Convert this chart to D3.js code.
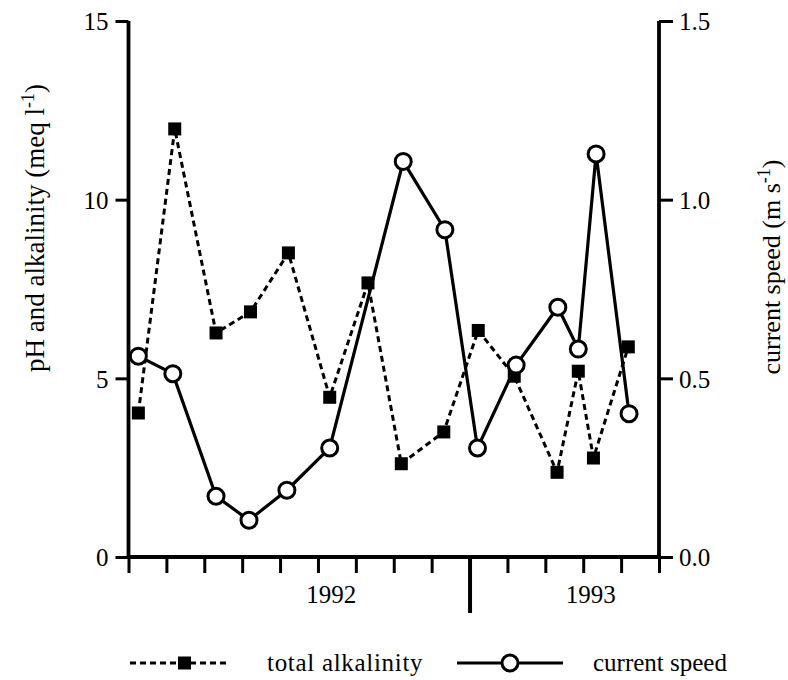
<!DOCTYPE html>
<html>
<head>
<meta charset="utf-8">
<script src="https://cdn.jsdelivr.net/npm/d3@7/dist/d3.min.js"></script>
<style>
  html, body { margin: 0; padding: 0; background: #fff; }
  svg text { font-family: "Liberation Serif", "Times New Roman", serif; fill: #000; }
</style>
</head>
<body>
<svg id="chart" width="788" height="680"></svg>
<script>
// ---- data ----
const alkX = [0.26, 1.22, 2.31, 3.22, 4.22, 5.31, 6.32, 7.20, 8.32, 9.23, 10.18, 11.31, 11.87, 12.27, 13.19];
const alkalinity = [4.03, 11.98, 6.27, 6.86, 8.51, 4.47, 7.67, 2.61, 3.50, 6.34, 5.06, 2.37, 5.20, 2.77, 5.88];
const speedX = [0.26, 1.17, 2.31, 3.18, 4.18, 5.31, 7.25, 8.35, 9.21, 10.23, 11.33, 11.87, 12.34, 13.21];
const currentSpeed = [0.562, 0.513, 0.170, 0.103, 0.187, 0.305, 1.107, 0.916, 0.305, 0.537, 0.699, 0.582, 1.128, 0.401];
const monthTicks = d3.range(0, 15);
const majorTick = 9;
const yearLabels = ["1992", "1993"];
const yearLabelPos = [5.35, 12.2];
const leftTicks = [0, 5, 10, 15];
const rightTicks = [0, 0.5, 1.0, 1.5];
const legendLabels = ["total alkalinity", "current speed"];

// ---- layout ----
const svg = d3.select("#chart");
const x = d3.scaleLinear().domain([0, 14]).range([128.5, 659]);
const yL = d3.scaleLinear().domain([0, 15]).range([557, 21]);
const yR = d3.scaleLinear().domain([0, 1.5]).range([557, 21]);
const fs = 25;

// axes frame
const gAx = svg.append("g").attr("stroke", "#000").attr("stroke-width", 3.8).attr("fill", "none");
gAx.append("line").attr("x1", x(0)).attr("x2", x(0)).attr("y1", yL(15)).attr("y2", yL(0));
gAx.append("line").attr("x1", x(14)).attr("x2", x(14)).attr("y1", yR(1.5)).attr("y2", yR(0));
gAx.append("line").attr("x1", x(0) - 1.5).attr("x2", x(14) + 1.5).attr("y1", yL(0)).attr("y2", yL(0));

// left axis
const leftAxis = d3.axisLeft(yL).tickValues(leftTicks).tickSize(13).tickPadding(7).tickFormat(d3.format("d"));
const gL = svg.append("g").attr("transform", `translate(${x(0)},0)`).call(leftAxis);
gL.select(".domain").remove();
gL.selectAll(".tick line").attr("stroke", "#000").attr("stroke-width", 3);
gL.selectAll(".tick text").attr("font-size", fs).attr("font-family", "Liberation Serif").attr("dy", "0.35em");

// right axis
const rightAxis = d3.axisRight(yR).tickValues(rightTicks).tickSize(14).tickPadding(6).tickFormat(d3.format(".1f"));
const gR = svg.append("g").attr("transform", `translate(${x(14)},0)`).call(rightAxis);
gR.select(".domain").remove();
gR.selectAll(".tick line").attr("stroke", "#000").attr("stroke-width", 3);
gR.selectAll(".tick text").attr("font-size", fs).attr("font-family", "Liberation Serif").attr("dy", "0.35em");

// bottom axis (month ticks)
const bottomAxis = d3.axisBottom(x).tickValues(monthTicks).tickSize(16).tickFormat("");
const gB = svg.append("g").attr("transform", `translate(0,${yL(0)})`).call(bottomAxis);
gB.select(".domain").remove();
gB.selectAll(".tick line").attr("stroke", "#000")
  .attr("y2", d => d === majorTick ? 56 : 16)
  .attr("stroke-width", d => d === majorTick ? 4 : 3);

svg.append("g").selectAll("text").data(yearLabels).join("text")
  .attr("x", (d, i) => x(yearLabelPos[i])).attr("y", 603)
  .attr("text-anchor", "middle").attr("font-size", fs).text(d => d);

// axis titles
const tl = svg.append("text").attr("transform", "translate(44,228) rotate(-90)")
  .attr("text-anchor", "middle").attr("font-size", 27);
tl.append("tspan").text("pH and alkalinity (meq l");
tl.append("tspan").attr("baseline-shift", "super").attr("font-size", 18).text("-1");
tl.append("tspan").text(")");

const tr = svg.append("text").attr("transform", "translate(780,267) rotate(-90)")
  .attr("text-anchor", "middle").attr("font-size", 26);
tr.append("tspan").text("current speed (m s");
tr.append("tspan").attr("baseline-shift", "super").attr("font-size", 18).text("-1");
tr.append("tspan").text(")");

// ---- series ----
const alkData = alkX.map((d, i) => [d, alkalinity[i]]);
const spdData = speedX.map((d, i) => [d, currentSpeed[i]]);

svg.append("path").datum(alkData)
  .attr("fill", "none").attr("stroke", "#000").attr("stroke-width", 3)
  .attr("stroke-dasharray", "6,4")
  .attr("d", d3.line().x(d => x(d[0])).y(d => yL(d[1])));

svg.append("path").datum(spdData)
  .attr("fill", "none").attr("stroke", "#000").attr("stroke-width", 3.2)
  .attr("d", d3.line().x(d => x(d[0])).y(d => yR(d[1])));

const sq = 13;
svg.append("g").selectAll("rect").data(alkData).join("rect")
  .attr("x", d => x(d[0]) - sq / 2).attr("y", d => yL(d[1]) - sq / 2)
  .attr("width", sq).attr("height", sq).attr("fill", "#000");

svg.append("g").selectAll("circle").data(spdData).join("circle")
  .attr("cx", d => x(d[0])).attr("cy", d => yR(d[1])).attr("r", 8)
  .attr("fill", "#fff").attr("stroke", "#000").attr("stroke-width", 3);

// ---- legend ----
const ly = 663;
const lg = svg.append("g");
lg.append("line").attr("x1", 130).attr("x2", 228).attr("y1", ly).attr("y2", ly)
  .attr("stroke", "#000").attr("stroke-width", 3).attr("stroke-dasharray", "6,4");
lg.append("rect").attr("x", 184.5 - sq / 2).attr("y", ly - sq / 2).attr("width", sq).attr("height", sq).attr("fill", "#000");
lg.append("text").attr("x", 267).attr("y", ly).attr("dy", "0.33em").attr("font-size", fs)
  .attr("letter-spacing", 0.7).text(legendLabels[0]);

lg.append("line").attr("x1", 457).attr("x2", 563).attr("y1", ly).attr("y2", ly)
  .attr("stroke", "#000").attr("stroke-width", 3);
lg.append("circle").attr("cx", 510).attr("cy", ly).attr("r", 8)
  .attr("fill", "#fff").attr("stroke", "#000").attr("stroke-width", 3);
lg.append("text").attr("x", 593).attr("y", ly).attr("dy", "0.33em").attr("font-size", fs).text(legendLabels[1]);
</script>
</body>
</html>
